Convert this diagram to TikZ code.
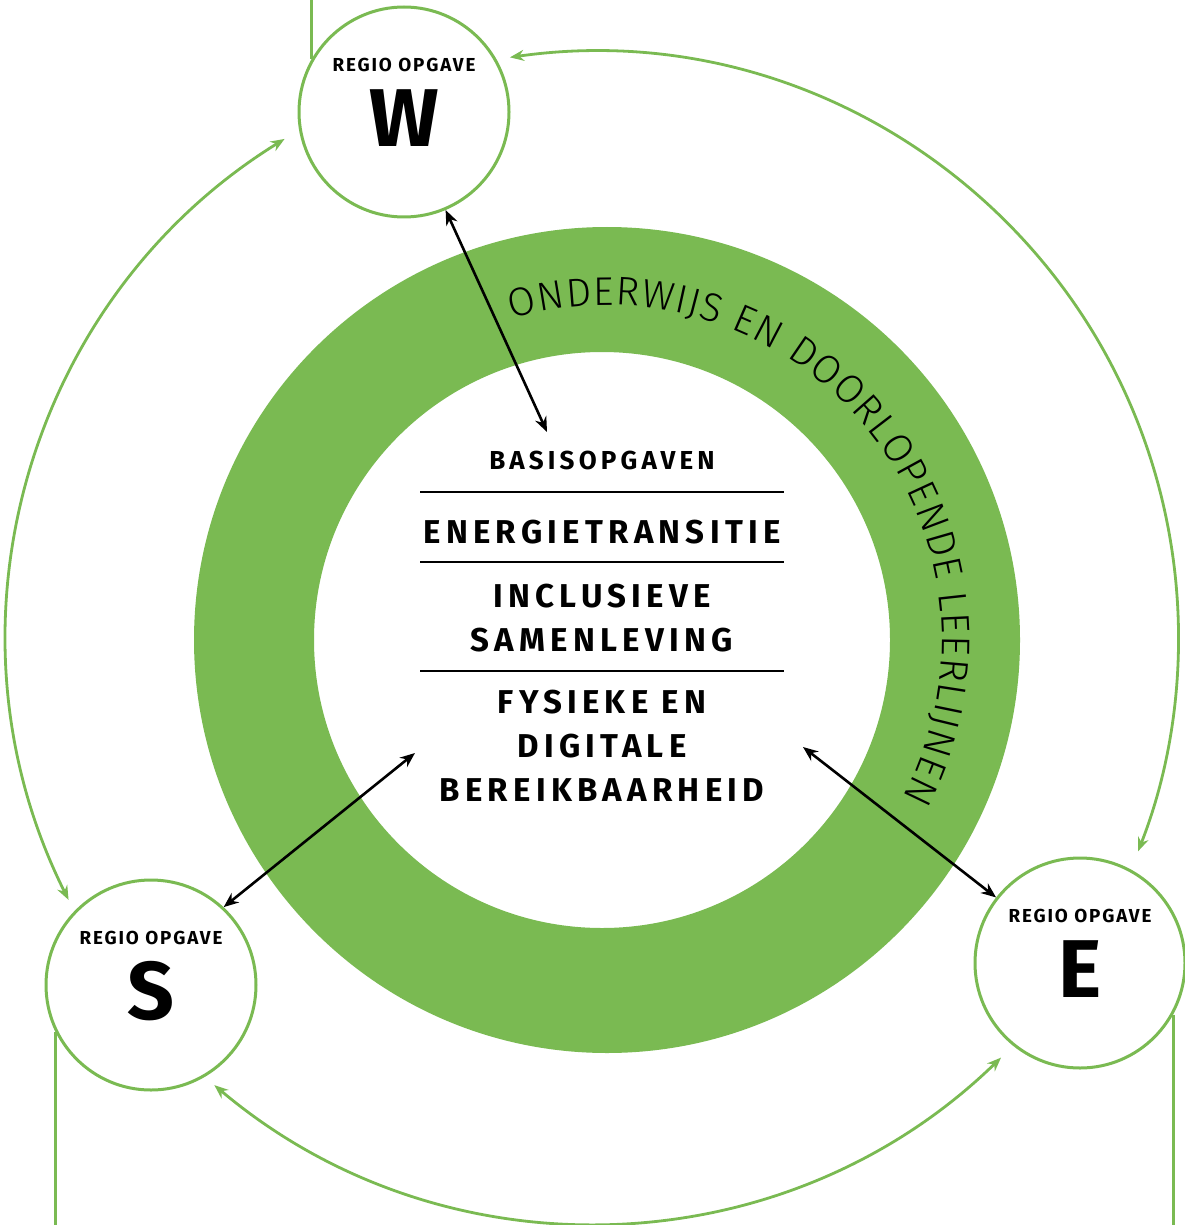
\documentclass[tikz,border=0pt]{standalone}
\usepackage{fontspec}
\setmainfont{Fira Sans}
\newfontfamily\headfont{Fira Sans}[LetterSpace=10]
\newfontfamily\topicfont{Fira Sans}[LetterSpace=16]
\newfontfamily\ringfont{Fira Sans Light}
\usepackage{tikz}
\usetikzlibrary{arrows.meta, decorations.text}

\definecolor{regiogreen}{RGB}{122,186,82}

\begin{document}
\begin{tikzpicture}[x=0.5pt, y=0.5pt,
    regio/.style={circle, draw=regiogreen, line width=1.5pt, fill=white,
      minimum size=105pt, inner sep=0pt},
    regiotxt/.style={font=\headfont\bfseries\fontsize{9.4}{11}\selectfont},
    lettertxt/.style={font=\headfont\bfseries\fontsize{41}{41}\selectfont},
    link/.style={draw=regiogreen, line width=1.4pt},
    flow/.style={link, {Stealth[length=7pt, width=5.5pt]}-{Stealth[length=7pt, width=5.5pt]}},
    tie/.style={line width=1.3pt, {Stealth[length=7.5pt, width=6pt]}-{Stealth[length=7.5pt, width=6pt]}},
    basis/.style={font=\topicfont\bfseries\fontsize{13}{20}\selectfont},
    topic/.style={font=\topicfont\bfseries\fontsize{16.5}{22}\selectfont, align=center}]
    \useasboundingbox (0,0) rectangle (1184,-1225);
    \coordinate (top) at (0,0);
    \coordinate (bottom) at (0,-1225);
    \coordinate (orbit) at (592.5,-637.5);

    % draw green ring
    \fill[regiogreen, even odd rule] (607,-640) circle (413) (602,-640) circle (288);

    % draw ring label
    \path[decorate, decoration={text along path, text align={fit to path},
        text={|\ringfont\fontsize{20}{20}\selectfont|ONDERWIJS EN DOORLOPENDE LEERLIJNEN}}]
      ([shift={(106.5:335)}]607,-640) arc [radius=335, start angle=106.5, end angle=-28];

    % draw outer arcs
    \draw[flow] ([shift={(206.6:586)}]orbit) arc [radius=586, start angle=206.6, end angle=121.7];
    \draw[flow] ([shift={(98.1:586)}]orbit) arc [radius=586, start angle=98.1, end angle=-21.4];
    \draw[flow] ([shift={(229.8:586)}]orbit) arc [radius=586, start angle=229.8, end angle=314.2];

    % draw regio circles
    \node[regio] (W) at (404,-112) {};
    \node[regio] (S) at (151,-985) {};
    \node[regio] (E) at (1080,-963) {};
    \foreach \n in {W,S,E} {
      \node[regiotxt] at ([yshift=23.5pt]\n.center) {REGIO OPGAVE};
      \node[lettertxt] at ([yshift=-3pt]\n.center) {\n};
    }

    % draw lines to the edge
    \draw[link] (W.150) -- (W.150 |- top);
    \draw[link] (S.206.6) -- (S.206.6 |- bottom);
    \draw[link] (E.-29) -- (E.-29 |- bottom);

    % draw basic tasks
    \node[basis] (basis) at (602,-460) {BASISOPGAVEN};
    \node[topic] (energie) at (602,-532) {ENERGIETRANSITIE};
    \node[topic] (inclusief) at (602,-618.5) {INCLUSIEVE\\SAMENLEVING};
    \node[topic] (bereik) at (602,-746) {FYSIEKE EN\\DIGITALE\\BEREIKBAARHEID};
    \foreach \y in {492,562,671}
      \draw[line width=1pt] (420,-\y) -- (784,-\y);

    % draw double arrows
    \coordinate (basisW) at (547,-432);
    \coordinate (basisS) at (415,-753);
    \coordinate (basisE) at (803,-747);
    \draw[tie] (W.-67) -- (basisW);
    \draw[tie] (S.47) -- (basisS);
    \draw[tie] (E.142) -- (basisE);

\end{tikzpicture}
\end{document}
